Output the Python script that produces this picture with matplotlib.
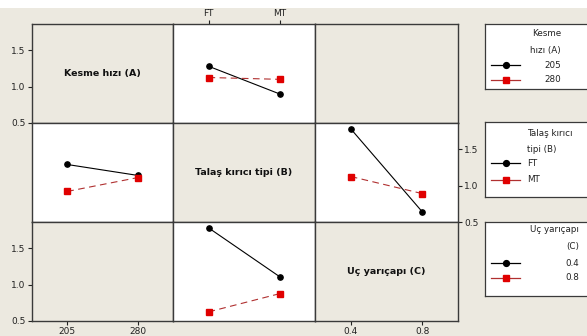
import matplotlib
matplotlib.use("Agg")
import matplotlib.pyplot as plt
from matplotlib.patches import Rectangle

# factor levels
speed_levels = ["205", "280"]
breaker_levels = ["FT", "MT"]
radius_levels = ["0.4", "0.8"]

# interaction means
# row A, col B: speed lines over chip breaker
a_by_b_205 = [1.28, 0.90]
a_by_b_280 = [1.125, 1.10]
# row B, col A: chip breaker lines over speed
b_by_a_ft = [1.29, 1.14]
b_by_a_mt = [0.92, 1.11]
# row B, col C: chip breaker lines over nose radius
b_by_c_ft = [1.78, 0.64]
b_by_c_mt = [1.125, 0.89]
# row C, col B: nose radius lines over chip breaker
c_by_b_04 = [1.78, 1.11]
c_by_b_08 = [0.625, 0.875]

factor_names = ["Kesme hızı (A)", "Talaş kırıcı tipi (B)", "Uç yarıçapı (C)"]
y_ticks = [0.5, 1.0, 1.5]

W, H = 587, 336
BG = "#ece9e0"
BLACK = "#000000"
RED_M = "#e00000"
RED_L = "#b03030"

fig = plt.figure(figsize=(W / 100, H / 100), dpi=100, facecolor=BG)
fig.patches.append(Rectangle((0, 1 - 8 / H), 1, 8 / H, transform=fig.transFigure,
                             facecolor="white", edgecolor="none", zorder=0))

col_x = [32, 173, 315, 458]
row_y = [24, 123, 222, 321]


def px_axes(x0, y0, x1, y1):
    return fig.add_axes([x0 / W, 1 - y1 / H, (x1 - x0) / W, (y1 - y0) / H])


cells = {
    (0, 1): (breaker_levels, a_by_b_205, a_by_b_280),
    (1, 0): (speed_levels, b_by_a_ft, b_by_a_mt),
    (1, 2): (radius_levels, b_by_c_ft, b_by_c_mt),
    (2, 1): (breaker_levels, c_by_b_04, c_by_b_08),
}

for r in range(3):
    for c in range(3):
        ax = px_axes(col_x[c], row_y[r], col_x[c + 1], row_y[r + 1])
        ax.set_xlim(-0.5, 1.5)
        ax.set_ylim(0.5, 1.86)
        for s in ax.spines.values():
            s.set_color("#3a3a3a")
            s.set_linewidth(1.0)
        ax.tick_params(length=3, width=0.8, labelsize=6.5, pad=1.5, colors="#222222")
        ax.set_xticks([])
        ax.set_yticks([])
        if (r, c) in cells:
            lv, s1, s2 = cells[(r, c)]
            ax.set_facecolor("white")
            ax.plot([0, 1], s1, color=BLACK, lw=0.8, marker="o", ms=3.8)
            ax.plot([0, 1], s2, color=RED_L, lw=0.8, ls=(0, (6, 4)),
                    marker="s", ms=3.8, mfc=RED_M, mec=RED_M)
        else:
            ax.set_facecolor(BG)
        if r == c:
            ax.text(0.5, 0.5, factor_names[r], transform=ax.transAxes, ha="center",
                    va="center", fontsize=6.8, fontweight="bold", color="#111111")
        # axis ticks on the outer edges
        if c == 0 and r in (0, 2):
            ax.set_yticks(y_ticks)
            ax.set_yticklabels([f"{v:.1f}" for v in y_ticks])
        if c == 2 and r == 1:
            ax.yaxis.tick_right()
            ax.set_yticks(y_ticks)
            ax.set_yticklabels([f"{v:.1f}" for v in y_ticks])
        if r == 0 and c == 1:
            ax.xaxis.tick_top()
            ax.set_xticks([0, 1])
            ax.set_xticklabels(breaker_levels)
        if r == 2 and c == 0:
            ax.set_xticks([0, 1])
            ax.set_xticklabels(speed_levels)
        if r == 2 and c == 2:
            ax.set_xticks([0, 1])
            ax.set_xticklabels(radius_levels)

# legends drawn as boxes in figure pixel coordinates
legends = [
    (24, 89, ["Kesme", "hızı (A)"], speed_levels, 561, "right", 561, "right",
     [34, 50], [65, 80]),
    (122, 197, ["Talaş kırıcı", "tipi (B)"], breaker_levels, 527, "left", 527, "left",
     [134, 149], [163, 180]),
    (222, 296, ["Uç yarıçapı", "(C)"], radius_levels, 579, "right", 579, "right",
     [229, 247], [263, 278]),
]

for top, bot, title, labels, tx, tha, lx, lha, ty, ly in legends:
    lax = px_axes(485, top, 640, bot)
    lax.set_xlim(485, 640)
    lax.set_ylim(bot, top)
    lax.set_facecolor("white")
    lax.set_xticks([])
    lax.set_yticks([])
    for s in lax.spines.values():
        s.set_color("#3a3a3a")
        s.set_linewidth(0.9)
    for t, yy in zip(title, ty):
        lax.text(tx, yy, t, ha=tha, va="center", fontsize=6.3, color="#222222")
    for i, (lab, yy) in enumerate(zip(labels, ly)):
        if i == 0:
            lax.plot([491, 520], [yy, yy], color=BLACK, lw=0.9)
            lax.plot([506], [yy], marker="o", color=BLACK, ms=4.2)
        else:
            lax.plot([491, 520], [yy, yy], color=RED_L, lw=0.9)
            lax.plot([506], [yy], marker="s", color=RED_M, ms=4.2)
        lax.text(lx, yy, lab, ha=lha, va="center", fontsize=6.3, color="#222222")

fig.savefig("out.png", dpi=100, facecolor=BG)
